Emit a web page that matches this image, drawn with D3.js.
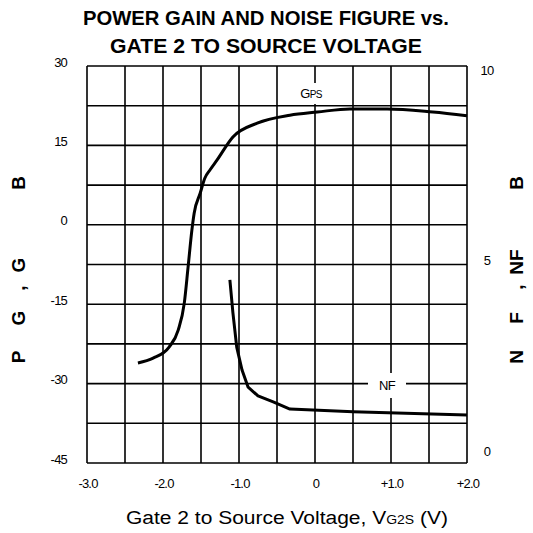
<!DOCTYPE html>
<html>
<head>
<meta charset="utf-8">
<script src="https://cdn.jsdelivr.net/npm/d3@7"></script>
<style>
  body { margin: 0; background: #fff; }
  text { font-family: "Liberation Sans", Arial, Helvetica, sans-serif; fill: #000; }
</style>
</head>
<body>
<div id="vis"></div>
<script>
// values
var xTicks = [-3, -2, -1, 0, 1, 2];
var xTickLabels = ['-3.0', '-2.0', '-1.0', '0', '+1.0', '+2.0'];
var leftTicks = [30, 15, 0, -15, -30, -45];
var rightTicks = [10, 5, 0];

var gpsVolt = [-2.33, -2.13, -1.92, -1.80, -1.72, -1.67, -1.62, -1.59, -1.51, -1.45, -1.38, -1.29, -1.08, -0.76, -0.33, 0.03, 0.46, 0.95, 1.55, 2.0];
var gpsDb   = [-26.1, -25.2, -23.1, -19.9, -14.8, -8.0, -1.0, 2.2, 6.0, 8.8, 10.4, 12.2, 16.6, 19.2, 20.7, 21.3, 21.9, 21.9, 21.3, 20.6];

var nfVolt = [-1.12, -1.08, -1.03, -0.96, -0.88, -0.75, -0.55, -0.33, 0.5, 2.0];
var nfDb   = [4.61, 3.78, 2.92, 2.34, 1.91, 1.69, 1.54, 1.36, 1.29, 1.21];

var W = 533, H = 533;
var margin = { left: 87, right: 66, top: 66, bottom: 70 };
var width = W - margin.left - margin.right;
var height = H - margin.top - margin.bottom;

var svg = d3.select('#vis').append('svg')
    .attr('width', W)
    .attr('height', H);

var xScale = d3.scaleLinear().domain([-3, 2]).range([margin.left, margin.left + width]);
var yLeft = d3.scaleLinear().domain([-45, 30]).range([margin.top + height, margin.top]);
var yRight = d3.scaleLinear().domain([0, 10]).range([margin.top + height, margin.top]);

// title
svg.append('text')
    .attr('x', 266).attr('y', 25)
    .attr('text-anchor', 'middle')
    .attr('textLength', 366).attr('lengthAdjust', 'spacingAndGlyphs')
    .style('font-size', '20px').style('font-weight', 'bold')
    .text('POWER GAIN AND NOISE FIGURE vs.');
svg.append('text')
    .attr('x', 266).attr('y', 53)
    .attr('text-anchor', 'middle')
    .attr('textLength', 312).attr('lengthAdjust', 'spacingAndGlyphs')
    .style('font-size', '20px').style('font-weight', 'bold')
    .text('GATE 2 TO SOURCE VOLTAGE');

// grid
var grid = svg.append('g').attr('stroke', '#000').attr('stroke-width', 1.6);
d3.range(-3, 2.01, 0.5).forEach(function(v) {
    grid.append('line')
        .attr('x1', xScale(v)).attr('x2', xScale(v))
        .attr('y1', yLeft(30)).attr('y2', yLeft(-45));
});
d3.range(-45, 30.01, 7.5).forEach(function(v) {
    grid.append('line')
        .attr('x1', xScale(-3)).attr('x2', xScale(2))
        .attr('y1', yLeft(v)).attr('y2', yLeft(v));
});

// tick labels
svg.append('g').selectAll('text').data(leftTicks).enter().append('text')
    .attr('x', margin.left - 20)
    .attr('y', function(d) { return yLeft(d) - 4; })
    .attr('dy', '0.35em')
    .attr('text-anchor', 'end')
    .style('font-size', '13px').style('letter-spacing', '-0.8px')
    .text(function(d) { return d; });

var rightLabelY = d3.scaleLinear().domain([0, 10]).range([451, 70]);
svg.append('g').selectAll('text').data(rightTicks).enter().append('text')
    .attr('x', 487)
    .attr('y', function(d) { return rightLabelY(d); })
    .attr('dy', '0.35em')
    .attr('text-anchor', 'middle')
    .style('font-size', '13px').style('letter-spacing', '-0.8px')
    .text(function(d) { return d; });

svg.append('g').selectAll('text').data(xTicks).enter().append('text')
    .attr('x', function(d) { return xScale(d) + 1; })
    .attr('y', 488)
    .attr('text-anchor', 'middle')
    .style('font-size', '13px').style('letter-spacing', '-0.8px')
    .text(function(d, i) { return xTickLabels[i]; });

// x axis title
var xt = svg.append('text')
    .attr('x', 287).attr('y', 524)
    .attr('text-anchor', 'middle')
    .attr('textLength', 322).attr('lengthAdjust', 'spacingAndGlyphs')
    .style('font-size', '18px');
xt.append('tspan').text('Gate 2 to Source Voltage, V');
xt.append('tspan').style('font-size', '12px').text('G2S');
xt.append('tspan').text(' (V)');

// y axis titles, scattered bold glyphs
var leftGlyphs = [['P', 357], ['G', 318], [',', 288], ['G', 265], ['B', 183]];
var rightGlyphs = [['N', 357], ['F', 318], [',', 287], ['NF', 262], ['B', 183]];
leftGlyphs.forEach(function(g) {
    svg.append('text')
        .attr('transform', 'translate(25,' + g[1] + ')rotate(-90)')
        .attr('text-anchor', 'middle')
        .style('font-size', '19px').style('font-weight', 'bold')
        .text(g[0]);
});
rightGlyphs.forEach(function(g) {
    svg.append('text')
        .attr('transform', 'translate(523,' + g[1] + ')rotate(-90)')
        .attr('text-anchor', 'middle')
        .style('font-size', '19px').style('font-weight', 'bold')
        .text(g[0]);
});

// curves
var gpsData = gpsVolt.map(function(v, i) { return [v, gpsDb[i]]; });
var nfData = nfVolt.map(function(v, i) { return [v, nfDb[i]]; });

var gpsLine = d3.line()
    .x(function(d) { return xScale(d[0]); })
    .y(function(d) { return yLeft(d[1]); })
    .curve(d3.curveMonotoneX);
var nfLine = d3.line()
    .x(function(d) { return xScale(d[0]); })
    .y(function(d) { return yRight(d[1]); });

svg.append('path').datum(gpsData)
    .attr('d', gpsLine)
    .attr('fill', 'none').attr('stroke', '#000').attr('stroke-width', 3)
    .attr('stroke-linejoin', 'round');
svg.append('path').datum(nfData)
    .attr('d', nfLine)
    .attr('fill', 'none').attr('stroke', '#000').attr('stroke-width', 3)
    .attr('stroke-linejoin', 'round');

// curve labels with white boxes
svg.append('rect')
    .attr('x', 292).attr('y', 83).attr('width', 41).attr('height', 21)
    .attr('fill', '#fff');
var gl = svg.append('text')
    .attr('x', 311).attr('y', 98)
    .attr('text-anchor', 'middle')
    .style('font-size', '13px').style('letter-spacing', '-0.6px');
gl.append('tspan').text('G');
gl.append('tspan').style('font-size', '10px').text('PS');

svg.append('rect')
    .attr('x', 368).attr('y', 373).attr('width', 38).attr('height', 25)
    .attr('fill', '#fff');
svg.append('text')
    .attr('x', 387).attr('y', 390)
    .attr('text-anchor', 'middle')
    .style('font-size', '13px').style('letter-spacing', '-0.6px')
    .text('NF');
</script>
</body>
</html>
